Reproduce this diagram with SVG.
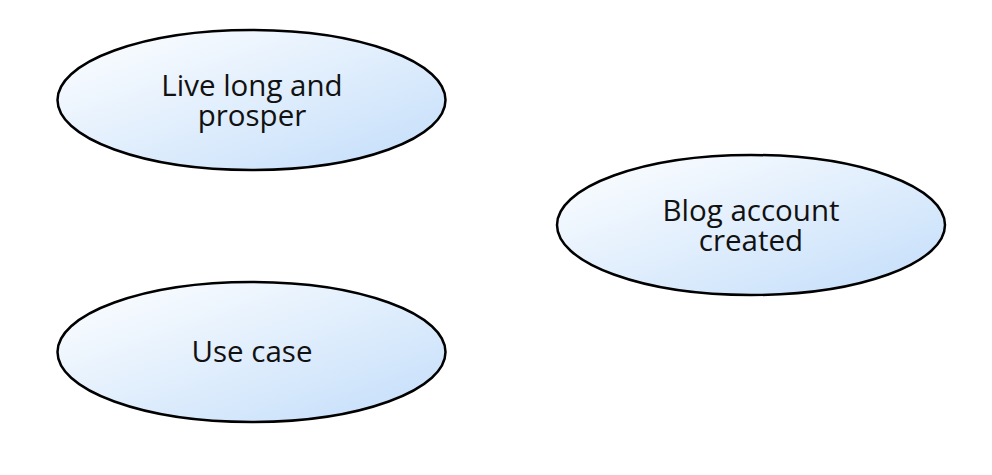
<svg xmlns="http://www.w3.org/2000/svg" width="992" height="475" viewBox="0 0 992 475">
<defs>
<linearGradient id="g" x1="0" y1="0" x2="1" y2="1">
<stop offset="0" stop-color="#ffffff"/>
<stop offset="1" stop-color="#c2ddfa"/>
</linearGradient>
<style>
.n{fill:url(#g);stroke:#000;stroke-width:2.5}
.t{font-family:"Open Sans",sans-serif;font-size:29.5px;fill:#111;text-anchor:middle}
</style>
</defs>
<rect width="992" height="475" fill="#fff"/>
<g id="connectors"/>
<g id="n1">
<ellipse class="n" cx="251.5" cy="100" rx="194" ry="70"/>
<text class="t"><tspan x="252" y="96">Live long and</tspan><tspan x="252" y="126">prosper</tspan></text>
</g>
<g id="n2">
<ellipse class="n" cx="751" cy="225" rx="194" ry="70"/>
<text class="t"><tspan x="751" y="221">Blog account</tspan><tspan x="751" y="251">created</tspan></text>
</g>
<g id="n3">
<ellipse class="n" cx="251.5" cy="352" rx="194" ry="70"/>
<text class="t" x="252" y="362">Use case</text>
</g>
</svg>
